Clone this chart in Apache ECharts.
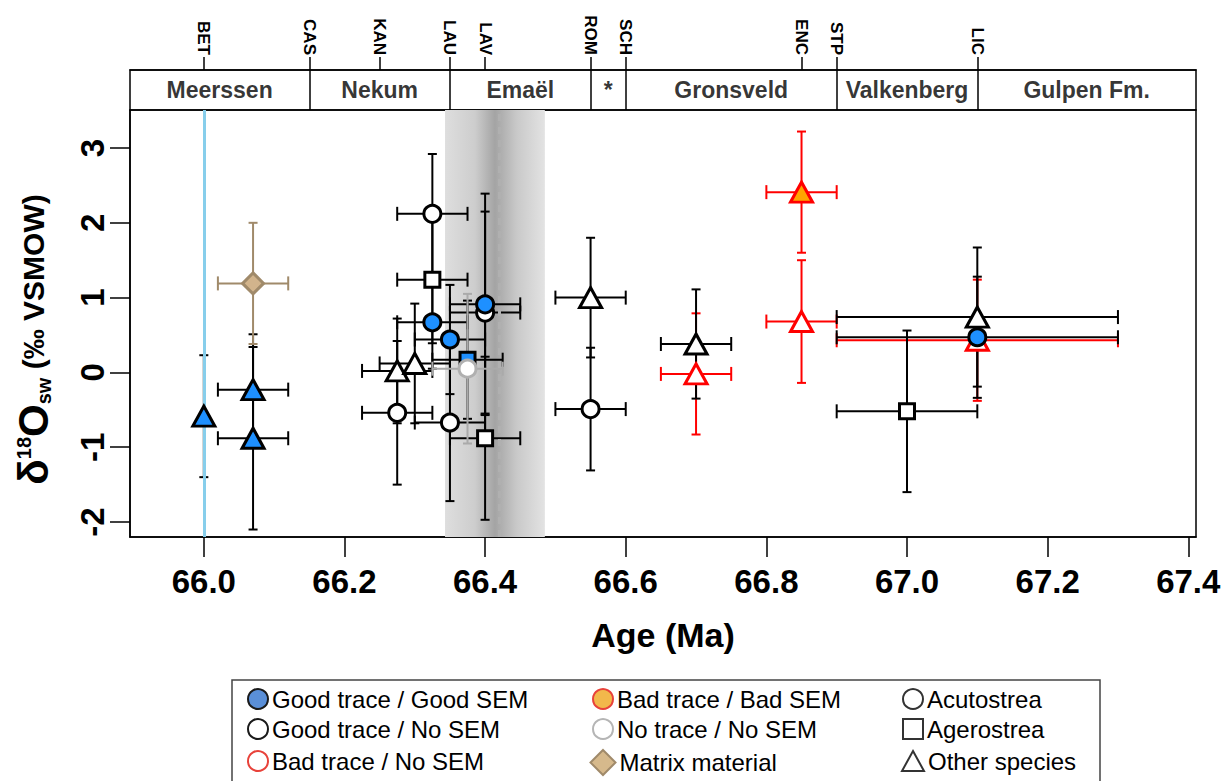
<!DOCTYPE html>
<html>
<head>
<meta charset="utf-8">
<script src="https://cdn.jsdelivr.net/npm/echarts@6/dist/echarts.min.js"></script>
<style>
  html, body { margin: 0; padding: 0; background: #fff; }
  #chart { width: 1231px; height: 781px; }
</style>
</head>
<body>
<div id="chart"></div>
<script>
// rows: [age (Ma), d18Osw, age error, d18O error, species]
var goodTraceGoodSem = [
  [66.00, -0.585, 0,    0.815, 'Other'],
  [66.07, -0.23,  0.05, 0.74,  'Other'],
  [66.07, -0.88,  0.05, 1.22,  'Other'],
  [66.325, 0.67,  0.05, 0.62,  'Acutostrea'],
  [66.35,  0.44,  0.05, 0.73,  'Acutostrea'],
  [66.375, 0.17,  0.05, 0.79,  'Agerostrea'],
  [66.40,  0.91,  0.05, 1.48,  'Acutostrea'],
  [67.10,  0.47,  0.20, 0.81,  'Acutostrea']
];
var goodTraceNoSem = [
  [66.325, 2.12,  0.05, 0.80, 'Acutostrea'],
  [66.325, 1.24,  0.05, 0.85, 'Agerostrea'],
  [66.275, 0.02,  0.05, 0.70, 'Other'],
  [66.275, -0.54, 0.05, 0.96, 'Acutostrea'],
  [66.30,  0.12,  0.05, 0.80, 'Other'],
  [66.35, -0.67,  0.05, 1.05, 'Acutostrea'],
  [66.40,  0.80,  0.05, 1.35, 'Acutostrea'],
  [66.40, -0.88,  0.05, 1.09, 'Agerostrea'],
  [66.55,  1.00,  0.05, 0.80, 'Other'],
  [66.55, -0.49,  0.05, 0.82, 'Acutostrea'],
  [66.70,  0.38,  0.05, 0.73, 'Other'],
  [67.00, -0.52,  0.10, 1.08, 'Agerostrea'],
  [67.10,  0.74,  0.20, 0.93, 'Other']
];
var badTraceNoSem = [
  [66.70, -0.02, 0.05, 0.81, 'Other'],
  [66.85,  0.68, 0.05, 0.82, 'Other'],
  [67.10,  0.43, 0.20, 0.81, 'Other']
];
var badTraceBadSem = [
  [66.85, 2.41, 0.05, 0.81, 'Other']
];
var noTraceNoSem = [
  [66.375, 0.05, 0.05, 1.00, 'Acutostrea']
];
var matrixMaterial = [
  [66.07, 1.19, 0.05, 0.81, 'Matrix']
];

var formationNames = ['Meerssen', 'Nekum', 'Emaël', '*', 'Gronsveld', 'Valkenberg', 'Gulpen Fm.'];
var formationBounds = [66.15, 66.35, 66.55, 66.60, 66.90, 67.10];
var siteNames = ['BET', 'CAS', 'KAN', 'LAU', 'LAV', 'ROM', 'SCH', 'ENC', 'STP', 'LIC'];
var siteAges  = [66.00, 66.15, 66.25, 66.35, 66.40, 66.55, 66.60, 66.85, 66.90, 67.10];
var ageTicks = [66.0, 66.2, 66.4, 66.6, 66.8, 67.0, 67.2, 67.4];
var d18OTicks = [-2, -1, 0, 1, 2, 3];
var kpgAge = 66.0;
var shadedAges = [66.343, 66.485];
var dashedAge = 66.415;

var AGE_MIN = 65.895, AGE_MAX = 67.411;
var FONT = 'Liberation Sans, Arial, sans-serif';

var speciesSymbol = { Acutostrea: 'circle', Agerostrea: 'rect', Other: 'triangle', Matrix: 'diamond' };
var speciesSize = { Acutostrea: 17, Agerostrea: 15, Other: [22, 20], Matrix: [21, 21] };

// error bars with caps
function errorBars(color) {
  return function (params, api) {
    var x = api.value(0), y = api.value(1), xe = api.value(2), ye = api.value(3);
    var c = api.coord([x, y]);
    var st = { stroke: color, lineWidth: 2, fill: null };
    var kids = [];
    if (ye > 0) {
      var t = api.coord([x, y + ye])[1], b = api.coord([x, y - ye])[1];
      kids.push({ type: 'line', shape: { x1: c[0], y1: t, x2: c[0], y2: b }, style: st });
      kids.push({ type: 'line', shape: { x1: c[0] - 4.5, y1: t, x2: c[0] + 4.5, y2: t }, style: st });
      kids.push({ type: 'line', shape: { x1: c[0] - 4.5, y1: b, x2: c[0] + 4.5, y2: b }, style: st });
    }
    if (xe > 0) {
      var l = api.coord([x - xe, y])[0], r = api.coord([x + xe, y])[0];
      kids.push({ type: 'line', shape: { x1: l, y1: c[1], x2: r, y2: c[1] }, style: st });
      kids.push({ type: 'line', shape: { x1: l, y1: c[1] - 7, x2: l, y2: c[1] + 7 }, style: st });
      kids.push({ type: 'line', shape: { x1: r, y1: c[1] - 7, x2: r, y2: c[1] + 7 }, style: st });
    }
    return { type: 'group', children: kids };
  };
}

function barSeries(rows, color) {
  return {
    type: 'custom', xAxisIndex: 0, yAxisIndex: 0, z: 3, silent: true,
    renderItem: errorBars(color),
    encode: { x: 0, y: 1 },
    data: rows.map(function (r) { return [r[0], r[1], r[2], r[3]]; })
  };
}

function markerSeries(name, rows, fill, stroke) {
  return {
    name: name, type: 'scatter', xAxisIndex: 0, yAxisIndex: 0, z: 5, silent: true,
    itemStyle: { color: fill, borderColor: stroke, borderWidth: 3, opacity: 1 },
    data: rows.map(function (r) {
      return { value: [r[0], r[1]], symbol: speciesSymbol[r[4]], symbolSize: speciesSize[r[4]] };
    })
  };
}

var formationMids = formationNames.map(function (n, i) {
  var lo = i === 0 ? AGE_MIN : formationBounds[i - 1];
  var hi = i === formationBounds.length ? AGE_MAX : formationBounds[i];
  return [(lo + hi) / 2, 0.5, n];
});

// legend entries, one small legend each, laid out in 3 columns x 3 rows
var legendEntries = [
  { name: 'Good trace / Good SEM', icon: 'circle', itemStyle: { color: '#5a8fd8', borderColor: '#1a1a1a', borderWidth: 2 } },
  { name: 'Good trace / No SEM', icon: 'circle', itemStyle: { color: '#fff', borderColor: '#1a1a1a', borderWidth: 2 } },
  { name: 'Bad trace / No SEM', icon: 'circle', itemStyle: { color: '#fff', borderColor: '#e8423a', borderWidth: 2 } },
  { name: 'Bad trace / Bad SEM', icon: 'circle', itemStyle: { color: '#f2b84b', borderColor: '#e8423a', borderWidth: 2 } },
  { name: 'No trace / No SEM', icon: 'circle', itemStyle: { color: '#fff', borderColor: '#b5b5b5', borderWidth: 2 } },
  { name: 'Matrix material', icon: 'diamond', itemStyle: { color: '#d6b98c', borderColor: '#a08a6a', borderWidth: 2 } },
  { name: 'Acutostrea', icon: 'circle', itemStyle: { color: '#fff', borderColor: '#000', borderWidth: 2 } },
  { name: 'Agerostrea', icon: 'rect', itemStyle: { color: '#fff', borderColor: '#000', borderWidth: 2 } },
  { name: 'Other species', icon: 'triangle', itemStyle: { color: '#fff', borderColor: '#000', borderWidth: 2 } }
];
var legendColX = [257, 602, 912];
var legendRowY = [699, 729, 761];
var legends = legendEntries.map(function (e, i) {
  var col = Math.floor(i / 3), row = i % 3;
  var w = e.icon === 'diamond' ? 25 : (e.icon === 'triangle' ? 22 : 20);
  var h = e.icon === 'diamond' ? 25 : 20;
  return {
    left: legendColX[col] - w / 2, top: legendRowY[row] - 12,
    itemWidth: w, itemHeight: h, itemGap: 0, selectedMode: false, padding: 0,
    textStyle: { fontFamily: FONT, fontSize: 24, color: '#000', lineHeight: 24, padding: [0, 0, 0, -1] },
    data: [e]
  };
});

var chart = echarts.init(document.getElementById('chart'), null, { renderer: 'svg' });

var option = {
  animation: false,
  backgroundColor: '#fff',
  textStyle: { fontFamily: FONT },
  grid: [
    { left: 130, right: 35, top: 110, height: 427, show: true, borderColor: '#000', borderWidth: 1.5, backgroundColor: '#fff' },
    { left: 130, right: 35, top: 70, height: 40, show: true, borderColor: '#000', borderWidth: 1.5 }
  ],
  xAxis: [
    {
      type: 'value', gridIndex: 0, min: AGE_MIN, max: AGE_MAX,
      axisLine: { show: true, onZero: false, lineStyle: { color: '#000', width: 1.5 } },
      axisTick: { show: true, customValues: ageTicks, length: 20, lineStyle: { color: '#000', width: 1.5 } },
      axisLabel: {
        customValues: ageTicks, margin: 28, color: '#000', fontSize: 33, fontWeight: 'bold', fontFamily: FONT,
        formatter: function (v) { return v.toFixed(1); }
      },
      splitLine: { show: false },
      name: 'Age (Ma)', nameLocation: 'middle', nameGap: 81,
      nameTextStyle: { color: '#000', fontSize: 34, fontWeight: 'bold', fontFamily: FONT }
    },
    {
      type: 'value', gridIndex: 1, position: 'top', min: AGE_MIN, max: AGE_MAX,
      axisLine: { show: true, onZero: false, lineStyle: { color: '#000', width: 1.5 } },
      axisTick: { show: true, customValues: siteAges, length: 13, lineStyle: { color: '#000', width: 1.5 } },
      axisLabel: {
        customValues: siteAges, rotate: 90, margin: 15, color: '#000', fontSize: 17, fontWeight: 'bold', fontFamily: FONT,
        formatter: function (v) {
          for (var i = 0; i < siteAges.length; i++) {
            if (Math.abs(siteAges[i] - v) < 1e-6) return siteNames[i];
          }
          return '';
        }
      },
      splitLine: { show: false }
    }
  ],
  yAxis: [
    {
      type: 'value', gridIndex: 0, min: -2.2, max: 3.508,
      axisLine: { show: true, onZero: false, lineStyle: { color: '#000', width: 1.5 } },
      axisTick: { show: true, customValues: d18OTicks, length: 20, lineStyle: { color: '#000', width: 1.5 } },
      axisLabel: {
        customValues: d18OTicks, rotate: 90, margin: 21, color: '#000', fontSize: 33, fontWeight: 'bold', fontFamily: FONT
      },
      splitLine: { show: false },
      name: '{d|δ}{sup|18}{d|O}{sub|sw}{t| (‰ VSMOW)}',
      nameLocation: 'middle', nameRotate: 90, nameGap: 74,
      nameTextStyle: {
        color: '#000', fontFamily: FONT, padding: [0, 32, 0, 0],
        rich: {
          d: { fontSize: 42, fontWeight: 'bold', fontFamily: FONT, color: '#000', lineHeight: 46 },
          sup: { fontSize: 20, fontWeight: 'bold', fontFamily: FONT, color: '#000', verticalAlign: 'top', lineHeight: 46, padding: [4, 0, 0, 0] },
          sub: { fontSize: 20, fontWeight: 'bold', fontFamily: FONT, color: '#000', verticalAlign: 'bottom', lineHeight: 46, padding: [0, 0, 2, 0] },
          t: { fontSize: 30, fontWeight: 'bold', fontFamily: FONT, color: '#000', lineHeight: 46 }
        }
      }
    },
    { type: 'value', gridIndex: 1, min: 0, max: 1, show: false }
  ],
  legend: legends,
  graphic: [
    { type: 'rect', shape: { x: 232, y: 680, width: 868, height: 110 }, style: { fill: 'none', stroke: '#444', lineWidth: 1.5 }, silent: true }
  ],
  series: [
    // shaded interval, K-Pg line, dashed line
    {
      type: 'scatter', xAxisIndex: 0, yAxisIndex: 0, z: 1, silent: true, data: [],
      markArea: {
        silent: true,
        itemStyle: {
          opacity: 1,
          color: new echarts.graphic.LinearGradient(0, 0, 1, 0, [
            { offset: 0, color: '#dedede' },
            { offset: 0.3, color: '#cdcdcd' },
            { offset: 0.5, color: '#a4a4a4' },
            { offset: 0.72, color: '#c9c9c9' },
            { offset: 1, color: '#e3e3e3' }
          ])
        },
        data: [[{ xAxis: shadedAges[0] }, { xAxis: shadedAges[1] }]]
      },
      markLine: {
        silent: true, symbol: ['none', 'none'], label: { show: false },
        data: [
          { xAxis: dashedAge, lineStyle: { color: '#b0b0b0', width: 3, type: [7, 6] } },
          { xAxis: kpgAge, lineStyle: { color: '#87ceeb', width: 3, type: 'solid' } }
        ]
      }
    },
    barSeries(badTraceNoSem, '#ff0000'),
    barSeries(badTraceBadSem, '#ff0000'),
    barSeries(goodTraceNoSem, '#000'),
    barSeries(goodTraceGoodSem, '#000'),
    barSeries(noTraceNoSem, '#aaaaaa'),
    barSeries(matrixMaterial, '#a08a6a'),
    markerSeries('Bad trace / No SEM', badTraceNoSem, '#fff', '#ff0000'),
    markerSeries('Bad trace / Bad SEM', badTraceBadSem, '#ffa500', '#ff0000'),
    markerSeries('Good trace / No SEM', goodTraceNoSem, '#fff', '#000'),
    markerSeries('Good trace / Good SEM', goodTraceGoodSem, '#1e90ff', '#000'),
    markerSeries('No trace / No SEM', noTraceNoSem, '#fff', '#b0b0b0'),
    markerSeries('Matrix material', matrixMaterial, '#d2b48c', '#a08a6a'),
    { name: 'Acutostrea', type: 'scatter', data: [] },
    { name: 'Agerostrea', type: 'scatter', data: [] },
    { name: 'Other species', type: 'scatter', data: [] },
    // formation strip
    {
      type: 'scatter', xAxisIndex: 1, yAxisIndex: 1, silent: true, symbolSize: 0,
      data: formationMids,
      label: {
        show: true, position: 'inside', color: '#000', fontSize: 23, fontWeight: 'bold', fontFamily: FONT,
        formatter: function (p) { return p.value[2]; }
      },
      markLine: {
        silent: true, symbol: ['none', 'none'], label: { show: false },
        lineStyle: { color: '#000', width: 1.5, type: 'solid' },
        data: formationBounds.map(function (b) { return { xAxis: b }; })
      }
    }
  ]
};

chart.setOption(option);
</script>
</body>
</html>
